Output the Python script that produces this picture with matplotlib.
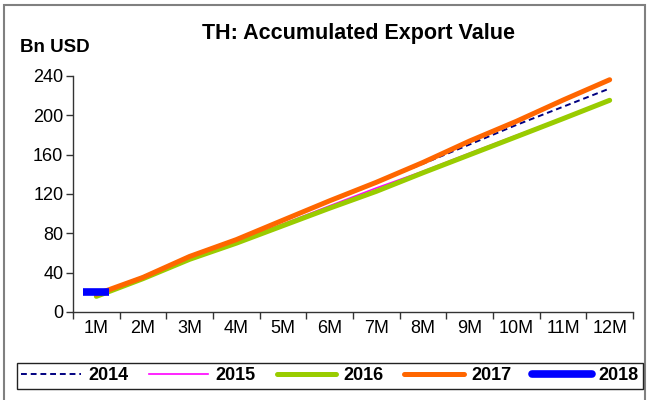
import matplotlib.pyplot as plt
from matplotlib.patches import Rectangle

plt.rcParams['font.family'] = ['Liberation Sans', 'DejaVu Sans']

months = ['1M', '2M', '3M', '4M', '5M', '6M', '7M', '8M', '9M', '10M', '11M', '12M']

# accumulated export value, Bn USD
y2014 = [17.3, 36.2, 57.1, 74.3, 93.6, 112.7, 131.6, 150.8, 170.4, 190.2, 208.7, 227.3]
y2015 = [17.0, 35.3, 55.6, 71.6, 89.4, 108.0, 126.1, 143.1, 161.5, 179.6, 197.0, 214.4]
y2016 = [15.9, 33.9, 53.6, 70.0, 87.8, 105.6, 122.7, 141.6, 159.9, 178.2, 196.6, 215.3]
y2017 = [18.0, 35.2, 56.5, 73.6, 93.4, 113.1, 131.9, 152.1, 173.9, 193.9, 215.5, 236.2]
y2018 = [20.2]

fig = plt.figure(figsize=(6.49, 4.0), dpi=100)
ax = fig.add_axes([73 / 649, 1 - 312 / 400, 560 / 649, 236 / 400])

x = list(range(1, 13))
ax.plot(x, y2014, color='#000080', lw=1.4, ls=(0, (3, 2)), label='2014', zorder=3)
ax.plot(x, y2015, color='#ff00ff', lw=1.2, label='2015', zorder=2)
ax.plot(x, y2016, color='#99cc00', lw=3.6, label='2016', solid_capstyle='round', zorder=2)
ax.plot(x, y2017, color='#ff6600', lw=3.6, label='2017', solid_capstyle='round', zorder=4)
ax.plot(x[:len(y2018)], y2018, color='#0000ff', lw=5, marker='_', ms=19, mew=5.5,
        ls='none', label='2018', zorder=5)

ax.set_xlim(0.5, 12.5)
ax.set_ylim(0, 240)
ax.set_yticks(range(0, 241, 40))
ax.set_xticks([i + 0.5 for i in range(0, 13)])
ax.set_xticklabels([])
ax.set_xticks(x, minor=True)
ax.set_xticklabels(months, minor=True)
ax.tick_params(axis='x', which='minor', length=0, pad=6, labelsize=13)
ax.tick_params(axis='x', which='major', length=5, width=1, direction='out', color='#333333')
ax.tick_params(axis='y', length=5, width=1, direction='out', labelsize=13, pad=2, color='#333333')
for s in ['top', 'right']:
    ax.spines[s].set_visible(False)
for s in ['left', 'bottom']:
    ax.spines[s].set_color('#333333')
    ax.spines[s].set_linewidth(1)

fig.text(358 / 649, 1 - 33 / 400, 'TH: Accumulated Export Value', ha='center', va='center',
         fontsize=15.5, fontweight='bold')
fig.text(20 / 649, 1 - 48 / 400, 'Bn USD', ha='left', va='center', fontsize=13.5, fontweight='bold')

leg = fig.legend(loc='center', bbox_to_anchor=(330 / 649, 1 - 376 / 400), ncol=5,
                 frameon=True, fancybox=False, edgecolor='#222222', framealpha=1,
                 prop={'weight': 'bold', 'size': 13}, handlelength=3.3,
                 handletextpad=0.4, columnspacing=1.15, borderpad=0.25)
leg.get_frame().set_linewidth(1)
for h in leg.legend_handles:
    h.set_marker('None')
leg.legend_handles[4].set_linestyle('-')
leg.legend_handles[4].set_linewidth(5.5)
leg.legend_handles[4].set_solid_capstyle('round')

fig.patches.append(Rectangle((4 / 649, -0.1), 641 / 649, 1.1 - 5 / 400, transform=fig.transFigure,
                             fill=False, edgecolor='#808080', lw=1.5))

fig.savefig('out.png', dpi=100)
